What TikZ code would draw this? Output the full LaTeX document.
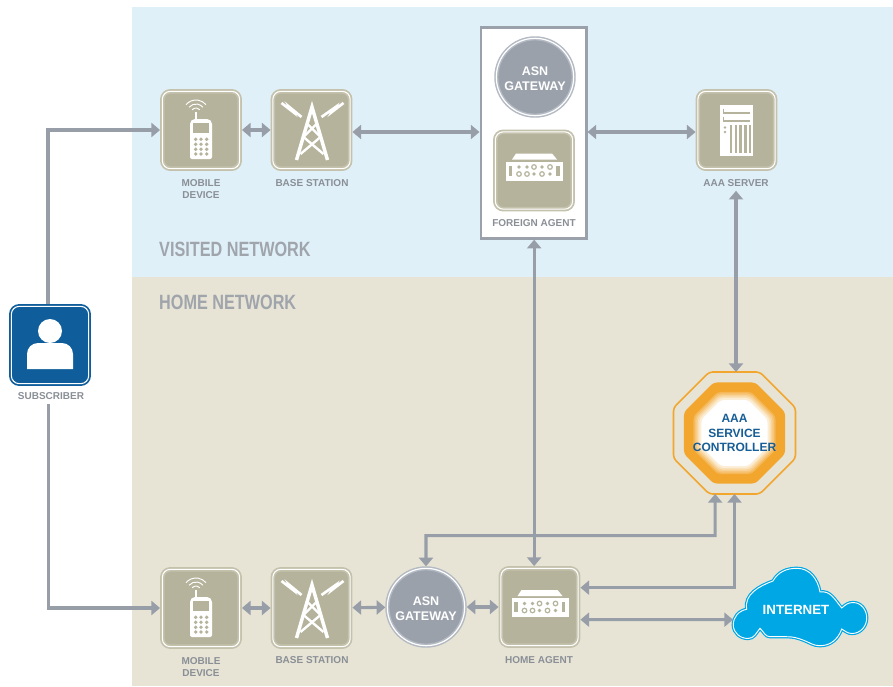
\documentclass[tikz,border=0pt]{standalone}
\usepackage{fontspec}
\setmainfont{Liberation Sans}
\usetikzlibrary{arrows.meta,shapes.geometric}

\definecolor{skyzone}{RGB}{224,240,248}
\definecolor{sandzone}{RGB}{231,228,214}
\definecolor{tan}{RGB}{182,179,156}
\definecolor{tanring}{RGB}{196,194,172}
\definecolor{linkgray}{RGB}{152,158,168}
\definecolor{capgray}{RGB}{138,143,150}
\definecolor{zonegray}{RGB}{160,165,172}
\definecolor{discgray}{RGB}{154,161,171}
\definecolor{discring}{RGB}{180,186,195}
\definecolor{userblue}{RGB}{15,94,155}
\definecolor{ctrlblue}{RGB}{24,94,150}
\definecolor{amber}{RGB}{242,166,46}
\definecolor{cloudblue}{RGB}{0,167,229}

\tikzset{
    link/.style={linkgray,line width=2.3pt,-{Triangle[length=6.5pt,width=10.5pt]}},
    linkboth/.style={link,{Triangle[length=6.5pt,width=10.5pt]}-{Triangle[length=6.5pt,width=10.5pt]}},
    devicebox/.style={draw=tanring,double=white,double distance=.8pt,line width=1.3pt,fill=tan,rounded corners=6pt,minimum size=58pt,inner sep=0pt,outer sep=1.7pt},
    userbox/.style={devicebox,draw=userblue,fill=userblue},
    gatedisc/.style={circle,draw=discring,double=white,double distance=.9pt,line width=1.1pt,fill=discgray,minimum size=58pt,inner sep=0pt,outer sep=1.5pt},
    gatename/.style={text=white,font=\fontsize{9.4}{11.2}\selectfont\bfseries,align=center,inner sep=0pt},
    caption/.style={text=capgray,font=\fontsize{7.5}{8.7}\selectfont\bfseries,align=center,inner sep=0pt},
    zonename/.style={text=zonegray,font=\fontsize{15.5}{18}\selectfont\bfseries,xscale=.785,anchor=west,inner sep=0pt},
    octagon/.style={regular polygon,regular polygon sides=8,inner sep=0pt,outer sep=0pt,rounded corners=2.5pt},
    phone/.pic={
        \fill[white,rounded corners=1.5pt] (-11,29) -- (-11,-8) -- (-8,-11) -- (8,-11) -- (11,-8) -- (11,29) -- cycle;
        \fill[tan] (-7.7,-7.3) rectangle (8.3,3.3);
        \foreach \kx in {-5.3,0,5.7}
            \foreach \ky in {9.3,14.3,19.3,24}
                \fill[tan] (\kx,\ky) circle [radius=1.9];
        \draw[white,line width=1.3pt] (-5,-11) -- (-5,-18);
        \foreach \wave in {5,9,13}
            \draw[white,line width=.7pt] ({-5+\wave*cos(140)},{-17-\wave*sin(140)}) arc [start angle=-140,end angle=-40,radius=\wave];
    },
    tower/.pic={
        \draw[white,line width=2.6pt,line join=miter] (-15,30) -- (.5,-23) -- (16,30);
        \draw[white,line width=1.8pt] (-5,-7) -- (9,7) -- (-11,24);
        \draw[white,line width=1.8pt] (6,-7) -- (-8,7) -- (12,24);
        \draw[white,line width=2pt] (-30,-27) -- (-19,-18.5) -- (-21.5,-22.5) -- (-10,-13);
        \draw[white,line width=2pt] (32,-27) -- (21,-18.5) -- (23.5,-22.5) -- (10,-13);
    },
    rack/.pic={
        \fill[white] (-18,-17) -- (18,-17) -- (23,-11) -- (-22,-11) -- cycle;
        \fill[white] (-28,-9) rectangle (29,10);
        \fill[tan] (-25.5,-4.7) rectangle (-22,5);
        \fill[tan] (22,-4.7) rectangle (25.5,5);
        \foreach \rx in {-15,-7,8}
            \fill[tan] (\rx,-3.5) circle [radius=1.9];
        \foreach \rx in {0,16}
            \draw[tan,line width=.9pt] (\rx,-3.5) circle [radius=2.3];
        \foreach \rx in {-15,-7,8}
            \draw[tan,line width=.9pt] (\rx,3.5) circle [radius=2.3];
        \foreach \rx in {0,16}
            \fill[tan] (\rx,3.5) circle [radius=1.9];
    },
    server/.pic={
        \fill[white] (-16.5,-25) rectangle (16,26);
        \draw[tan,line width=1.2pt] (-13.5,-17) -- (13.5,-17);
        \draw[tan,line width=1.2pt] (-13.5,-9) -- (13.5,-9);
        \draw[tan,line width=1.2pt] (-13,-21.5) -- (-13,-17);
        \draw[tan,line width=1.2pt] (-13,-13.5) -- (-13,-9);
        \foreach \sx in {-5.5,-.5,4,9,13.5}
            \draw[tan,line width=1.6pt] (\sx,-5) -- (\sx,23);
        \fill[tan] (-11.5,-2.5) circle [radius=1.4];
        \fill[tan] (-11.5,2) circle [radius=1.4];
    },
    person/.pic={
        \fill[white] (0,-14) circle [radius=12];
        \fill[white] (-23,24) -- (-23,9) arc [start angle=180,end angle=270,radius=11] -- (12,-2) arc [start angle=-90,end angle=0,radius=11] -- (23,24) -- cycle;
    }
}

\begin{document}
\begin{tikzpicture}[x=.75pt,y=-.75pt]
    \useasboundingbox (0,0) rectangle (893,686);
    \fill[skyzone] (132,7) rectangle (893,277);
    \fill[sandzone] (132,277) rectangle (893,686);
    \node[zonename] (visitedname) at (159,249) {VISITED NETWORK};
    \node[zonename] (homename) at (159,302) {HOME NETWORK};

    % subscriber
    \node[userbox] (subscriber) at (50,345) {};
    \pic at (subscriber) {person};
    \node[caption] (subscribercap) at (51,396) {SUBSCRIBER};

    % visited network
    \node[devicebox] (mobileA) at (201,130) {};
    \pic at (mobileA) {phone};
    \node[caption] (mobileAcap) at (201,189) {MOBILE\\DEVICE};
    \node[devicebox] (baseA) at (311.5,130) {};
    \pic at (baseA) {tower};
    \node[caption] (baseAcap) at (312,183) {BASE STATION};
    \node[draw=discgray,line width=2pt,fill=white,minimum width=79pt,minimum height=158pt,inner sep=0pt,outer sep=1pt] (foreignframe) at (533.5,133) {};
    \node[gatedisc] (gateA) at (535,77) {};
    \node[gatename] (gateAname) at (535,78.5) {ASN\\GATEWAY};
    \node[devicebox] (foreign) at (534,170.5) {};
    \pic at (foreign) {rack};
    \node[caption] (foreigncap) at (534,223) {FOREIGN AGENT};
    \node[devicebox] (aaa) at (736.5,130) {};
    \pic at (aaa) {server};
    \node[caption] (aaacap) at (736,183) {AAA SERVER};

    % home network
    \node[devicebox] (mobileB) at (201,608) {};
    \pic at (mobileB) {phone};
    \node[caption] (mobileBcap) at (201,667) {MOBILE\\DEVICE};
    \node[devicebox] (baseB) at (311.5,608) {};
    \pic at (baseB) {tower};
    \node[caption] (baseBcap) at (312,660) {BASE STATION};
    \node[gatedisc] (gateB) at (426,607) {};
    \node[gatename] (gateBname) at (426,608.5) {ASN\\GATEWAY};
    \node[devicebox] (home) at (539.5,607) {};
    \pic at (home) {rack};
    \node[caption] (homecap) at (539,660) {HOME AGENT};

    % controller
    \node[octagon,draw=amber,line width=1.2pt,minimum size=99pt] (ctrl) at (734.5,433) {};
    \foreach \flat/\tint in {101/100,85/100,82/80,79/65,76/50,73/35,70/20,66/0}
        \node[octagon,fill=amber!\tint!white,minimum size={\flat*0.812pt}] (core\flat) at (734.5,433) {};
    \node[text=ctrlblue,font=\fontsize{9}{10.9}\selectfont\bfseries,align=center,inner sep=0pt] (ctrlname) at (734.5,433) {AAA\\SERVICE\\CONTROLLER};

    % cloud
    \draw[draw=cloudblue,double=white,double distance=.7pt,line width=.9pt,fill=cloudblue] (733.3,625) to [out=90,in=190] (746.7,609.3) to [out=100,in=200] (773,581) to [out=60,in=180] (797,568.3) to [out=0,in=100] (820,592) to [out=10,in=130] (841.7,608) to [out=40,in=180] (853,602.5) to [out=0,in=90] (866.7,618) to [out=-90,in=0] (852,633.5) to [out=180,in=-30] (841.7,629) to [out=-110,in=0] (820,645.7) to [out=180,in=-20] (803,640) to [out=160,in=0] (786.7,636.7) to [out=180,in=0] (770,636.7) to [out=180,in=-40] (760,628.3) to [out=-130,in=0] (748,638.5) to [out=180,in=-90] (733.3,625);
    \node[text=white,font=\fontsize{10}{12}\selectfont\bfseries,inner sep=0pt] (internet) at (796,610) {INTERNET};
    \coordinate (cloudport) at (733,619.67);
    \coordinate (bend) at (715.17,535.7);

    % links
    \draw[link] ([xshift=-1.5pt]subscriber.north) |- (mobileA.west);
    \draw[link] ([xshift=-2pt,yshift=-3pt]subscribercap.south) |- (mobileB.west);
    \draw[linkboth] (mobileA) -- (baseA);
    \draw[linkboth] ([yshift=-1.5pt]baseA.east) -- ([yshift=-1.5pt]baseA.east -| foreignframe.west);
    \draw[linkboth] (foreignframe.east |- aaa.west) ++(0,2) -- ([yshift=-1.5pt]aaa.west);
    \draw[linkboth] ([yshift=-3pt]aaacap.south) -- (ctrl.north -| aaacap.south);
    \draw[linkboth] (mobileB) -- (baseB);
    \draw[linkboth] (baseB) -- (gateB);
    \draw[linkboth] (gateB) -- (home);
    \draw[linkboth] ([xshift=-4pt]home.north |- foreignframe.south) -- ([xshift=-4pt]home.north);
    \draw[linkboth] (gateB.north) |- (bend) -- ([xshift=-14.5pt]ctrl.south);
    \draw[linkboth] ([yshift=14.5pt]home.east) -| (ctrl.south);
    \draw[linkboth] ([yshift=-9.5pt]home.east) -- (cloudport);
\end{tikzpicture}
\end{document}
